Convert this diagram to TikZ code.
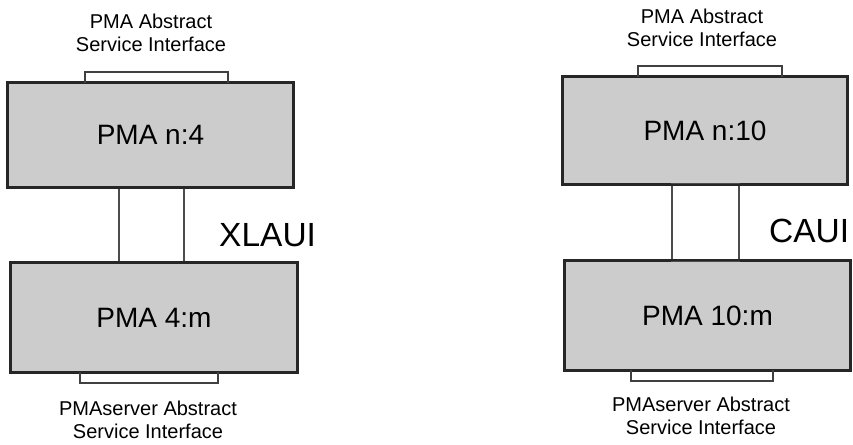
\documentclass[tikz,border=0pt]{standalone}
\usepackage{fontspec}
\setmainfont{Liberation Sans}
\begin{document}
\begin{tikzpicture}[x=1pt,y=-1pt,
  pmabox/.style={draw=black!85, line width=1.8pt, fill=black!20, inner sep=0pt,
    font=\fontsize{28}{32}\selectfont},
  linkbox/.style={draw=black!70, line width=1.3pt, fill=white, inner sep=0pt},
  tab/.style={draw=black!75, line width=1.2pt},
  lbl/.style={align=center, font=\fontsize{20}{23.5}\selectfont, inner sep=0pt},
  bus/.style={font=\fontsize{33.5}{36}\selectfont, inner sep=0pt, anchor=west}]
\useasboundingbox (0,0) rectangle (853,444);
% left stack
\node[pmabox, minimum width=285pt, minimum height=104pt] (lt) at (150.5,135) {PMA n:4};
\node[pmabox, minimum width=286pt, minimum height=109pt] (lb) at (154,317.5) {PMA 4:m};
\node[linkbox, minimum width=65pt, minimum height=74pt] (ll) at (151.5,225) {};
\draw[pmabox, fill=none] (lt.south west) rectangle (lt.north east);
\draw[pmabox, fill=none] (lb.south west) rectangle (lb.north east);
\coordinate (lta) at (85,83); \coordinate (ltb) at (228,83);
\draw[tab] (lta) -- ++(0,-11) -| (ltb);
\coordinate (lba) at (80,372); \coordinate (lbb) at (218,372);
\draw[tab] (lba) -- ++(0,11) -| (lbb);
\node[bus] (xlaui) at (219,235) {XLAUI};
\node[lbl] (ltl) at (151,33) {PMA Abstract\\Service Interface};
\node[lbl] (lbl1) at (148,420) {PMAserver Abstract\\Service Interface};
% right stack
\node[pmabox, minimum width=284pt, minimum height=107pt] (rt) at (705,130.5) {PMA n:10};
\node[pmabox, minimum width=285pt, minimum height=109pt] (rb) at (707.5,315.5) {PMA 10:m};
\node[linkbox, minimum width=67pt, minimum height=77pt] (rl) at (705.5,222.5) {};
\draw[pmabox, fill=none] (rt.south west) rectangle (rt.north east);
\draw[pmabox, fill=none] (rb.south west) rectangle (rb.north east);
\coordinate (rta) at (638,77); \coordinate (rtb) at (782,77);
\draw[tab] (rta) -- ++(0,-11) -| (rtb);
\coordinate (rba) at (631,370); \coordinate (rbb) at (773,370);
\draw[tab] (rba) -- ++(0,11) -| (rbb);
\node[bus] (caui) at (769,231) {CAUI};
\node[lbl] (rtl) at (702,28) {PMA Abstract\\Service Interface};
\node[lbl] (rbl) at (701,416) {PMAserver Abstract\\Service Interface};
\end{tikzpicture}
\end{document}
